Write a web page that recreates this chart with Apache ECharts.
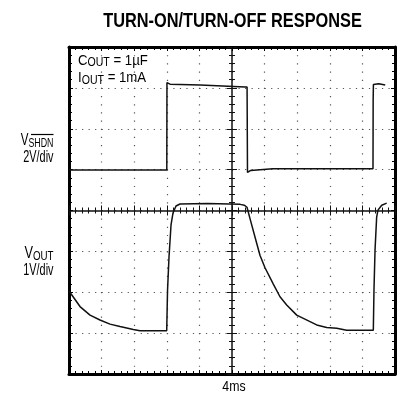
<!DOCTYPE html>
<html>
<head>
<meta charset="utf-8">
<title>Turn-On/Turn-Off Response</title>
<script src="https://cdn.jsdelivr.net/npm/echarts@6/dist/echarts.min.js"></script>
<style>html,body{margin:0;padding:0;background:#fff;}</style>
</head>
<body>
<div id="main" style="width:402px;height:402px;"></div>
<script type="text/javascript">
// time in ms (4ms/div), level in screen divisions from centre line
var shdnTime  = [0, 12.0, 12.02, 12.4, 16.1, 21.6, 21.85, 21.9, 22.3, 25.0, 37.3, 37.32, 37.35, 38.0, 38.8];
var shdnLevel = [0.99, 0.99, 3.13, 3.09, 3.07, 3.02, 3.02, 0.93, 0.98, 1.02, 1.02, 2.7, 3.08, 3.1, 3.07];

var voutTime  = [0, 1.35, 2.58, 3.80, 5.03, 6.26, 7.89, 8.71, 11.99, 12.06, 12.09, 12.27, 12.52, 12.76, 13.13, 13.62, 17.0, 21.0,
                 21.5, 21.84, 22.21, 23.03, 23.44, 24.05, 25.07, 25.89, 26.71, 27.94, 30.39, 31.62, 32.85, 34.07, 37.34,
                 37.42, 37.55, 37.75, 37.91, 38.37, 38.98];
var voutLevel = [-1.97, -2.35, -2.56, -2.68, -2.78, -2.84, -2.91, -2.94, -2.94, -2.94, -1.95, -1.14, -0.35, -0.06, 0.11, 0.16, 0.17, 0.15,
                 0.13, 0.08, -0.2, -0.8, -1.1, -1.4, -1.8, -2.11, -2.31, -2.56, -2.80, -2.86, -2.88, -2.93, -2.93,
                 -1.95, -0.97, -0.16, 0.01, 0.13, 0.18];

var FONT = "'Liberation Sans',Arial,sans-serif";

function pairs(xs, ys) {
    var out = [];
    for (var i = 0; i < xs.length; i++) out.push([xs[i], ys[i]]);
    return out;
}

var myChart = echarts.init(document.getElementById('main'));

var xBase = {
    type: 'value', min: 0, max: 40, interval: 4,
    axisLabel: { show: false },
    splitLine: { show: false }
};
var yBase = {
    type: 'value', min: -4, max: 4, interval: 1,
    axisLabel: { show: false },
    splitLine: { show: false }
};
function ax(base, extra) {
    return Object.assign({}, base, extra);
}
var frameLine = { onZero: false, lineStyle: { color: '#000', width: 3 } };
var centreLine = { onZero: false, lineStyle: { color: '#111', width: 1.5 } };
var noLine = { show: false, onZero: false };

// subscript label, rich text, squeezed to look like a condensed face
function subLabel(x, y, main, sub, rest, mainSize, subSize, align, sx) {
    return {
        type: 'text', x: x, y: y, z: 10, scaleX: sx,
        style: {
            text: '{a|' + main + '}{b|' + sub + '}' + (rest ? '{a|' + rest + '}' : ''),
            align: align, verticalAlign: 'middle',
            rich: {
                a: { font: mainSize + 'px ' + FONT, fill: '#000', verticalAlign: 'bottom', padding: [0, 0, 1, 0] },
                b: { font: subSize + 'px ' + FONT, fill: '#000', verticalAlign: 'bottom' }
            }
        }
    };
}
function plainLabel(x, y, text, size, align, sx, weight) {
    return {
        type: 'text', x: x, y: y, scaleX: sx,
        style: { text: text, font: (weight || '') + ' ' + size + 'px ' + FONT, fill: '#000', align: align, verticalAlign: 'middle' }
    };
}

var option = {
    animation: false,
    grid: { left: 69, top: 47, width: 326, height: 327, outerBoundsMode: 'none' },
    xAxis: [
        ax(xBase, {
            position: 'bottom', axisLine: frameLine,
            axisTick: { inside: true, length: 4, lineStyle: { color: '#000' } },
            minorTick: { show: true, splitNumber: 5, length: 3, lineStyle: { color: '#000' } },
            splitLine: { show: true, lineStyle: { color: '#555', width: 1.2, type: [1.2, 6.97] } }
        }),
        ax(xBase, {
            position: 'top', axisLine: frameLine,
            axisTick: { inside: true, length: 4, lineStyle: { color: '#000' } },
            minorTick: { show: true, splitNumber: 5, length: 3, lineStyle: { color: '#000' } }
        }),
        ax(xBase, {
            position: 'bottom', offset: -163.5, axisLine: centreLine,
            axisTick: { inside: true, length: 5, lineStyle: { color: '#111' } },
            minorTick: { show: true, splitNumber: 5, length: 3, lineStyle: { color: '#111' } }
        }),
        ax(xBase, {
            position: 'bottom', offset: -163.5, axisLine: noLine,
            axisTick: { inside: false, length: 5, lineStyle: { color: '#111' } },
            minorTick: { show: true, splitNumber: 5, length: 3, lineStyle: { color: '#111' } }
        })
    ],
    yAxis: [
        ax(yBase, {
            position: 'left', axisLine: frameLine,
            axisTick: { inside: true, length: 4, lineStyle: { color: '#000' } },
            minorTick: { show: true, splitNumber: 5, length: 3, lineStyle: { color: '#000' } },
            splitLine: { show: true, lineStyle: { color: '#555', width: 1.2, type: [1.2, 5.32] } }
        }),
        ax(yBase, {
            position: 'right', axisLine: frameLine,
            axisTick: { inside: true, length: 4, lineStyle: { color: '#000' } },
            minorTick: { show: true, splitNumber: 5, length: 3, lineStyle: { color: '#000' } }
        }),
        ax(yBase, {
            position: 'left', offset: -163, axisLine: centreLine,
            axisTick: { inside: true, length: 5, lineStyle: { color: '#111' } },
            minorTick: { show: true, splitNumber: 5, length: 3, lineStyle: { color: '#111' } }
        }),
        ax(yBase, {
            position: 'left', offset: -163, axisLine: noLine,
            axisTick: { inside: false, length: 5, lineStyle: { color: '#111' } },
            minorTick: { show: true, splitNumber: 5, length: 3, lineStyle: { color: '#111' } }
        })
    ],
    series: [{
        name: 'VSHDN', type: 'line', xAxisIndex: 0, yAxisIndex: 0,
        showSymbol: false, silent: true,
        lineStyle: { color: '#111', width: 1.5 },
        data: pairs(shdnTime, shdnLevel)
    }, {
        name: 'VOUT', type: 'line', xAxisIndex: 0, yAxisIndex: 0,
        showSymbol: false, silent: true,
        lineStyle: { color: '#111', width: 1.5 },
        data: pairs(voutTime, voutLevel)
    }],
    graphic: [
        plainLabel(232.5, 21, 'TURN-ON/TURN-OFF RESPONSE', 20, 'center', 0.817, 'bold'),
        subLabel(78, 61, 'C', 'OUT', ' = 1µF', 15, 12, 'left', 0.88),
        subLabel(78, 78.5, 'I', 'OUT', ' = 1mA', 15, 12, 'left', 0.88),
        subLabel(53.5, 141, 'V', 'SHDN', '', 17, 13, 'right', 0.68),
        { type: 'line', shape: { x1: 31, y1: 134.5, x2: 53.5, y2: 134.5 }, style: { stroke: '#000', lineWidth: 1.2 } },
        plainLabel(53.5, 157.5, '2V/div', 16, 'right', 0.68),
        subLabel(53.5, 254, 'V', 'OUT', '', 17, 13, 'right', 0.75),
        plainLabel(53.5, 271, '1V/div', 16, 'right', 0.68),
        plainLabel(234, 387.5, '4ms', 14, 'center', 0.88)
    ]
};

myChart.setOption(option);
</script>
</body>
</html>
